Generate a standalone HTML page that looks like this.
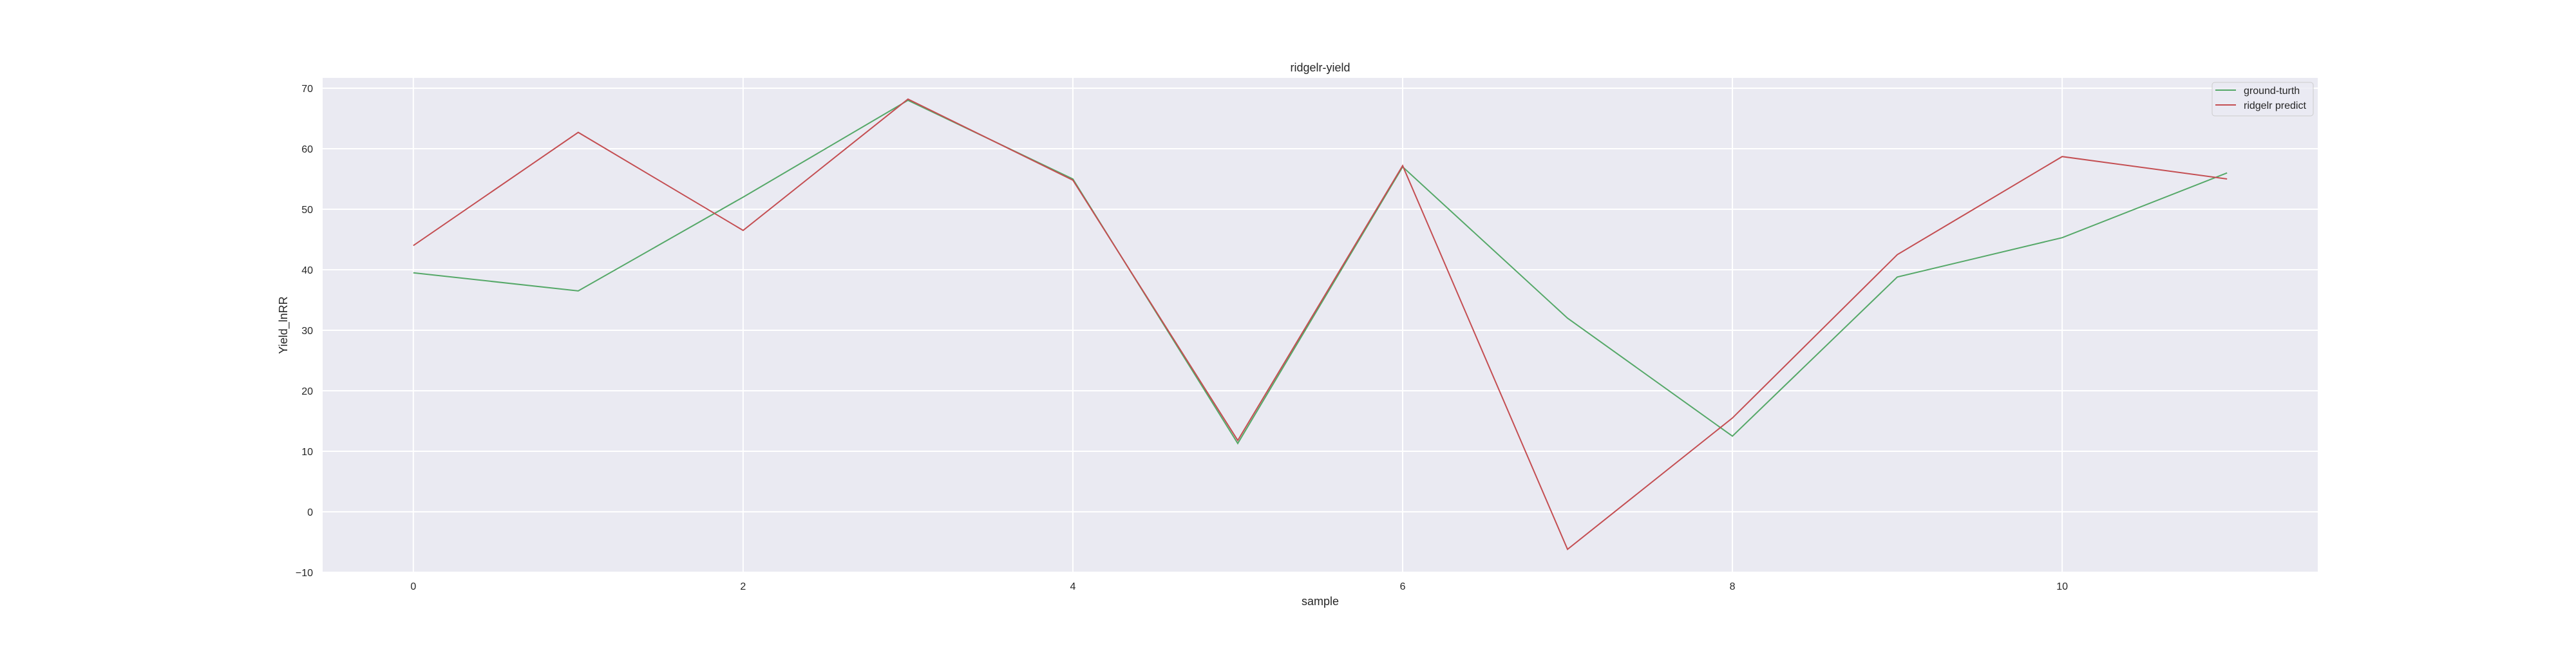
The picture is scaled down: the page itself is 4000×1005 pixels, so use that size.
<!DOCTYPE html>
<html><head><meta charset="utf-8"><style>
body{margin:0;background:#fff}
text{font-family:"Liberation Sans","DejaVu Sans",sans-serif;fill:#262626}
</style></head><body>
<svg id="chart" width="4000" height="1000" xmlns="http://www.w3.org/2000/svg">
<rect x="501" y="121" width="3098" height="768" fill="#eaeaf2"/>
<g id="grid"></g>
<g id="series"></g>
<text x="2050" y="111" font-size="18" text-anchor="middle">ridgelr-yield</text>
<text x="2050" y="940" font-size="18" text-anchor="middle">sample</text>
<text x="446" y="505" font-size="18" text-anchor="middle" transform="rotate(-90 446 505)">Yield_lnRR</text>
<g>
<rect x="3435" y="128" width="157" height="52" rx="4" fill="#eaeaf2" fill-opacity="0.8" stroke="#cccccc"/>
<line x1="3440" y1="140" x2="3472" y2="140" stroke="#55a868" stroke-width="2"/>
<text x="3484" y="146" font-size="16">ground-turth</text>
<line x1="3440" y1="163" x2="3472" y2="163" stroke="#c44e52" stroke-width="2"/>
<text x="3484" y="169" font-size="16">ridgelr predict</text>
</g>
</svg>
<script>
const samples=[0,1,2,3,4,5,6,7,8,9,10,11];
const groundTruth=[39.5,36.5,52,68,55,11.3,57,32,12.5,38.8,45.3,56];
const ridgePred=[44,62.7,46.5,68.2,54.8,11.8,57.2,-6.2,15.5,42.5,58.7,55];
const xTicks=[0,2,4,6,8,10];
const yTicks=[-10,0,10,20,30,40,50,60,70];
const L=501,R=3599,T=121,B=889;
const xmin=-0.55,xmax=11.55,ymin=-10,ymax=71.7;
const sx=v=>L+(v-xmin)/(xmax-xmin)*(R-L);
const sy=v=>889-(v-ymin)*9.4;
const NS='http://www.w3.org/2000/svg';
const grid=document.getElementById('grid');
function mk(tag,attrs,parent){const e=document.createElementNS(NS,tag);for(const k in attrs)e.setAttribute(k,attrs[k]);parent.appendChild(e);return e;}
xTicks.forEach(t=>{
  const l=mk('line',{x1:sx(t),x2:sx(t),y1:T,y2:B,stroke:'#fff','stroke-width':2},grid);
  
  
  const tx=mk('text',{x:sx(t),y:B+27,'font-size':16,'text-anchor':'middle'},grid);
  tx.textContent=t;
  
  
});
yTicks.forEach(t=>{
  const l=mk('line',{x1:L,x2:R,y1:sy(t),y2:sy(t),stroke:'#fff','stroke-width':2},grid);
  
  
  const tx=mk('text',{x:L-15,y:sy(t)+6,'font-size':16,'text-anchor':'end'},grid);
  tx.textContent=t<0?'\u2212'+Math.abs(t):t;
  
  
});
const ser=document.getElementById('series');
function line(vals,color,name){
  const p=mk('polyline',{points:vals.map((v,i)=>sx(samples[i])+','+sy(v)).join(' '),fill:'none',stroke:color,'stroke-width':2},ser);
  
  
}
line(groundTruth,'#55a868','ground-truth-line');
line(ridgePred,'#c44e52','ridgelr-predict-line');
</script>
</body></html>
